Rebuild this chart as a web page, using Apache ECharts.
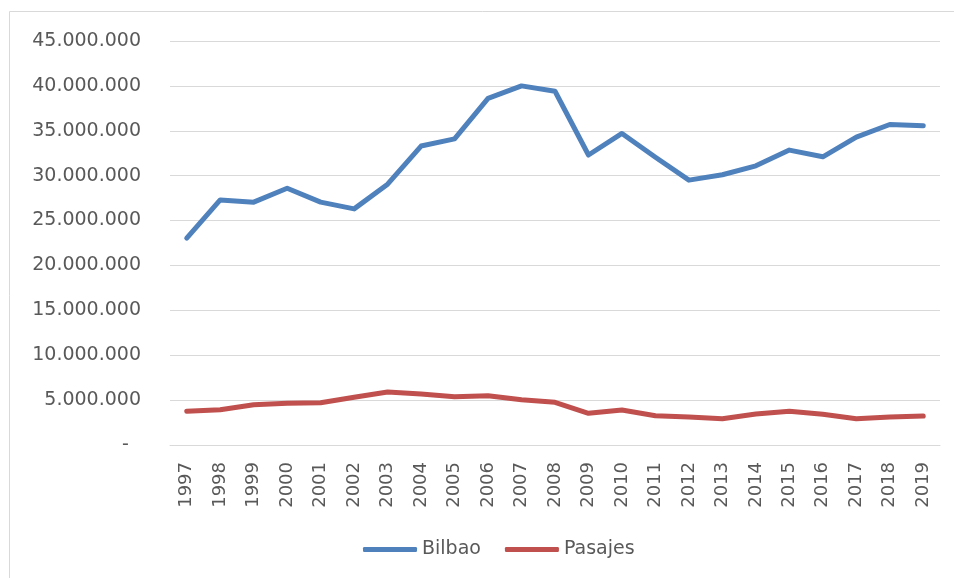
<html><head>
<meta charset="UTF-8">
<title>Bilbao / Pasajes</title>
<style>
  body { margin: 0; background: #fff; }
  #chart { width: 954px; height: 578px; }
</style>
</head>
<body>
<div id="chart"></div>
<script src="https://cdn.jsdelivr.net/npm/echarts@6/dist/echarts.min.js"></script>
<script>
  // datos
  const years = ['1997','1998','1999','2000','2001','2002','2003','2004','2005','2006','2007','2008',
                 '2009','2010','2011','2012','2013','2014','2015','2016','2017','2018','2019'];
  const bilbao = [23050000, 27300000, 27050000, 28600000, 27050000, 26300000, 29050000, 33300000,
                  34100000, 38600000, 40000000, 39400000, 32300000, 34700000, 32050000, 29500000,
                  30100000, 31100000, 32850000, 32100000, 34300000, 35700000, 35550000];
  const pasajes = [3750000, 3930000, 4490000, 4640000, 4710000, 5310000, 5900000, 5680000,
                   5380000, 5490000, 5040000, 4750000, 3530000, 3900000, 3260000, 3120000,
                   2930000, 3450000, 3750000, 3420000, 2930000, 3120000, 3230000];

  const font = 'DejaVu Sans';
  const txt = '#595959';

  function fmt(v) {
    if (v === 0) return '-  ';
    return String(v).replace(/\B(?=(\d{3})+(?!\d))/g, '.');
  }

  const chart = echarts.init(document.getElementById('chart'));
  chart.setOption({
    animation: false,
    textStyle: { fontFamily: font },
    graphic: [{
      type: 'rect',
      shape: { x: 9.5, y: 11.5, width: 1000, height: 1000 },
      style: { fill: 'none', stroke: '#d9d9d9', lineWidth: 1 },
      silent: true
    }],
    grid: { left: 170, right: 14, top: 41, bottom: 133, containLabel: false },
    legend: {
      left: 358,
      top: 535,
      icon: 'roundRect',
      itemWidth: 54,
      itemHeight: 5,
      itemGap: 24,
      textStyle: { fontFamily: font, fontSize: 19, color: txt },
      data: ['Bilbao', 'Pasajes']
    },
    xAxis: {
      type: 'category',
      data: years,
      boundaryGap: true,
      axisLine: { lineStyle: { color: '#d9d9d9', width: 1 } },
      axisTick: { show: false },
      axisLabel: { rotate: 90, margin: 17, fontSize: 18, color: txt, fontFamily: font, interval: 0 }
    },
    yAxis: {
      type: 'value',
      min: 0,
      max: 45000000,
      interval: 5000000,
      axisLine: { show: false },
      axisTick: { show: false },
      splitLine: { lineStyle: { color: '#d9d9d9', width: 1 } },
      axisLabel: { margin: 29, fontSize: 19, color: txt, fontFamily: font, formatter: fmt }
    },
    series: [
      {
        name: 'Bilbao',
        type: 'line',
        data: bilbao,
        symbol: 'none',
        lineStyle: { color: '#4f81bd', width: 5, cap: 'round', join: 'round' },
        itemStyle: { color: '#4f81bd' }
      },
      {
        name: 'Pasajes',
        type: 'line',
        data: pasajes,
        symbol: 'none',
        lineStyle: { color: '#c0504d', width: 5, cap: 'round', join: 'round' },
        itemStyle: { color: '#c0504d' }
      }
    ]
  });
</script>
</body></html>
